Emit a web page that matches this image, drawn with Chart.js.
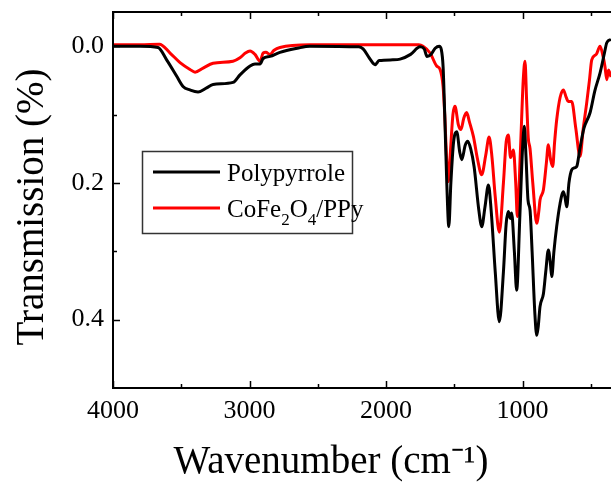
<!DOCTYPE html>
<html>
<head>
<meta charset="utf-8">
<script src="https://cdn.jsdelivr.net/npm/chart.js@4.4.1/dist/chart.umd.min.js"></script>
<style>
html,body{margin:0;padding:0;background:#fff;}
#wrap{width:611px;height:484px;position:relative;}
</style>
</head>
<body>
<div id="wrap"><canvas id="c" width="611" height="484"></canvas></div>
<script>
// ---- data ----
const seriesNames = ['Polypyrrole', 'CoFe2O4/PPy'];
const seriesColors = ['#000000', '#ff0000'];

const ppyWavenumber = [4000,3800,3670,3607,3533,3487,3436,3377,3314,3267,3121,3070,2996,2960,2923,2900,2850,2777,2650,2557,2200,2168,2120,2080,2050,1950,1897,1820,1751,1720,1700,1670,1640,1610,1595,1582,1570,1555,1540,1525,1505,1482,1460,1445,1420,1401,1380,1355,1320,1299,1275,1250,1230,1200,1170,1140,1120,1104,1090,1080,1060,1043,1020,1000,987,975,960,945,930,910,896,885,872,847,830,811,795,786,770,750,725,701,690,676,660,640,620,603,580,550,505,470,432,400,383,352];
const ppyValues     = [0.0,0.0,0.002,0.02,0.044,0.059,0.064,0.067,0.061,0.056,0.053,0.042,0.029,0.026,0.026,0.018,0.015,0.009,0.003,0.0,0.001,0.004,0.018,0.027,0.021,0.02,0.019,0.012,0.001,0.004,0.015,0.012,0.003,0.0,0.005,0.03,0.1,0.2,0.264,0.2,0.14,0.125,0.155,0.166,0.145,0.139,0.15,0.176,0.24,0.264,0.235,0.203,0.24,0.33,0.403,0.33,0.26,0.242,0.252,0.244,0.3,0.357,0.25,0.15,0.117,0.16,0.225,0.24,0.3,0.39,0.423,0.41,0.381,0.362,0.33,0.298,0.32,0.337,0.3,0.264,0.23,0.213,0.22,0.235,0.2,0.181,0.178,0.176,0.15,0.12,0.097,0.065,0.039,0.01,-0.005,-0.01];

const cfoWavenumber = [4000,3800,3660,3582,3509,3436,3399,3340,3267,3121,3070,3030,2996,2960,2923,2900,2880,2850,2820,2777,2557,1760,1729,1677,1629,1604,1582,1570,1555,1544,1530,1510,1495,1470,1451,1430,1409,1390,1360,1330,1299,1270,1245,1225,1200,1170,1140,1120,1104,1088,1067,1050,1038,1015,995,982,970,958,945,925,896,880,872,847,825,811,795,779,765,750,725,701,680,665,640,610,579,555,530,510,493,460,432,410,396,383,370,352];
const cfoValues     = [-0.002,-0.002,-0.003,0.01,0.024,0.034,0.038,0.032,0.025,0.022,0.017,0.01,0.007,0.012,0.022,0.01,0.009,0.012,0.006,0.002,-0.002,-0.002,0.0,0.01,0.029,0.034,0.059,0.1,0.17,0.198,0.16,0.1,0.088,0.115,0.122,0.105,0.097,0.11,0.132,0.165,0.188,0.16,0.133,0.16,0.22,0.272,0.2,0.14,0.13,0.163,0.152,0.2,0.249,0.15,0.05,0.022,0.08,0.134,0.15,0.2,0.259,0.24,0.225,0.21,0.17,0.144,0.165,0.176,0.14,0.108,0.075,0.064,0.075,0.081,0.081,0.12,0.161,0.12,0.083,0.05,0.02,0.012,0.0,0.015,0.03,0.049,0.035,0.045];

const xTickValues = [4000, 3000, 2000, 1000];
const xMinorTicks = [3500, 2500, 1500, 500];
const yTickValues = [0.0, 0.2, 0.4];
const yMinorTicks = [0.1, 0.3];
const xTitle = 'Wavenumber (cm\u207B\u00B9)';
const yTitle = 'Transmission (%)';

// ---- build ----
function pts(xs, ys){ return xs.map((x,i)=>({x:x, y:ys[i]})); }
const SERIF = '"Liberation Serif","Times New Roman",serif';

const framePlugin = {
  id: 'frame',
  afterDraw(chart){
    const ctx = chart.ctx, a = chart.chartArea;
    const xs = chart.scales.x, ys = chart.scales.y;
    ctx.save();
    ctx.strokeStyle = '#000'; ctx.lineWidth = 2;
    ctx.beginPath();
    ctx.moveTo(a.right+2, a.top); ctx.lineTo(a.left, a.top); ctx.lineTo(a.left, a.bottom); ctx.lineTo(a.right+2, a.bottom);
    ctx.stroke();
    ctx.lineWidth = 1.5;
    ctx.beginPath();
    xTickValues.forEach(v=>{ const p = Math.round(xs.getPixelForValue(v))+0.5; ctx.moveTo(p,a.bottom); ctx.lineTo(p,a.bottom-7); ctx.moveTo(p,a.top); ctx.lineTo(p,a.top+7); });
    xMinorTicks.forEach(v=>{ const p = Math.round(xs.getPixelForValue(v))+0.5; ctx.moveTo(p,a.bottom); ctx.lineTo(p,a.bottom-4); ctx.moveTo(p,a.top); ctx.lineTo(p,a.top+4); });
    yTickValues.forEach(v=>{ const p = Math.round(ys.getPixelForValue(v))+0.5; ctx.moveTo(a.left,p); ctx.lineTo(a.left+7,p); });
    yMinorTicks.forEach(v=>{ const p = Math.round(ys.getPixelForValue(v))+0.5; ctx.moveTo(a.left,p); ctx.lineTo(a.left+4,p); });
    ctx.stroke();

    // axis titles
    ctx.fillStyle = '#000';
    ctx.font = '39px ' + SERIF;
    ctx.textAlign = 'center'; ctx.textBaseline = 'middle';
    ctx.fillText(xTitle, 331, 463);
    ctx.save();
    ctx.translate(33, 207);
    ctx.rotate(-Math.PI/2);
    ctx.fillText(yTitle, 0, 0);
    ctx.restore();

    // legend
    const bx = 142, by = 151, bw = 210, bh = 82;
    ctx.lineWidth = 1.5; ctx.strokeStyle = '#333';
    ctx.strokeRect(bx+0.5, by+0.5, bw, bh);
    const rows = [172, 208];
    chart.data.datasets.forEach((ds, i)=>{
      const y = rows[i];
      ctx.strokeStyle = ds.borderColor; ctx.lineWidth = 3;
      ctx.beginPath(); ctx.moveTo(153, y); ctx.lineTo(220, y); ctx.stroke();
      let x = 227;
      ctx.textAlign = 'left'; ctx.textBaseline = 'alphabetic'; ctx.fillStyle = '#000';
      const base = y + 9;
      const parts = ds.label.match(/(\d+|[^\d]+)/g);
      parts.forEach(p=>{
        if (/^\d+$/.test(p)) {
          ctx.font = '17px ' + SERIF;
          ctx.fillText(p, x, base + 8);
        } else {
          ctx.font = '25px ' + SERIF;
          ctx.fillText(p, x, base);
        }
        x += ctx.measureText(p).width;
      });
    });
    ctx.restore();
  }
};

new Chart(document.getElementById('c'), {
  type: 'line',
  data: {
    datasets: [
      { label: seriesNames[0], data: pts(ppyWavenumber, ppyValues), borderColor: seriesColors[0], borderWidth: 3, pointRadius: 0, tension: 0.35, cubicInterpolationMode: 'monotone', fill: false },
      { label: seriesNames[1], data: pts(cfoWavenumber, cfoValues), borderColor: seriesColors[1], borderWidth: 3, pointRadius: 0, tension: 0.35, cubicInterpolationMode: 'monotone', fill: false }
    ]
  },
  options: {
    responsive: false,
    animation: false,
    layout: { padding: { top: 12, right: 0, left: 0, bottom: 0 } },
    plugins: { legend: { display: false }, tooltip: { enabled: false } },
    scales: {
      x: {
        type: 'linear', reverse: true, min: 352, max: 4000,
        grid: { display: false, drawTicks: false },
        border: { display: false },
        afterBuildTicks(s){ s.ticks = xTickValues.map(v=>({value:v})); },
        afterFit(s){ s.height = 96; s.paddingLeft = 0; s.paddingRight = 0; },
        ticks: { color: '#000', font: { family: SERIF, size: 26 }, padding: 8, maxRotation: 0, autoSkip: false, callback: v => String(v) }
      },
      y: {
        type: 'linear', reverse: true, min: -0.05, max: 0.5,
        grid: { display: false, drawTicks: false },
        border: { display: false },
        afterBuildTicks(s){ s.ticks = yTickValues.map(v=>({value:v})); },
        afterFit(s){ s.width = 113; s.paddingTop = 0; s.paddingBottom = 0; },
        ticks: { color: '#000', font: { family: SERIF, size: 26 }, padding: 9, autoSkip: false, callback: v => Number(v).toFixed(1) }
      }
    }
  },
  plugins: [framePlugin]
});
</script>
</body>
</html>
